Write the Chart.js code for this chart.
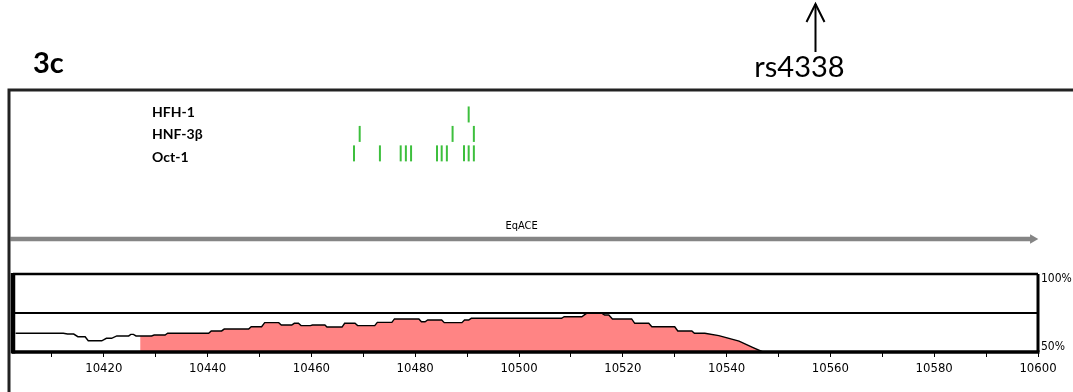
<!DOCTYPE html>
<html><head><meta charset="utf-8">
<script src="https://cdn.jsdelivr.net/npm/chart.js@4/dist/chart.umd.min.js"></script>
<style>html,body{margin:0;padding:0;background:#fff;overflow:hidden}</style>
</head><body>
<canvas id="c" width="1073" height="392"></canvas>
<script>
// ---- data ----
const panelLabel = '3c';
const snpLabel = 'rs4338';
const snpPosition = 10557;
const geneName = 'EqACE';
const geneSpan = [10402, 10599];
const tfNames = ['HFH-1', 'HNF-3\u03b2', 'Oct-1'];
const hfh1Sites = [10490.3];
const hnf3bSites = [10469.3, 10487.2, 10491.3];
const oct1Sites = [10468.2, 10473.2, 10477.2, 10478.2, 10479.2, 10484.2, 10485.1, 10486.1, 10489.4, 10490.3, 10491.3];
const consPositions = [10403, 10412.2, 10413, 10414.2, 10415, 10416.4, 10417, 10419.6, 10420.5, 10421.5, 10422.5, 10424.8, 10425.2, 10425.7, 10426.2, 10429.2, 10429.7, 10431.8, 10432.3, 10440.2, 10440.7, 10442.7, 10443.2, 10447.9, 10448.4, 10450.4, 10451, 10453.7, 10454.2, 10456.2, 10456.7, 10457.5, 10458, 10459.8, 10460.2, 10462.6, 10463, 10465.9, 10466.4, 10468.4, 10468.9, 10472.2, 10472.7, 10475.5, 10476, 10480.7, 10481.2, 10481.9, 10482.4, 10485.1, 10485.6, 10489.0, 10489.5, 10490.3, 10490.8, 10508.2, 10508.7, 10512.1, 10513, 10516, 10516.5, 10517.3, 10518, 10521.7, 10522.3, 10525, 10525.6, 10530, 10530.6, 10533.3, 10533.8, 10535.8, 10538.5, 10542.4, 10545, 10547];
const consValues = [62.0, 62.0, 61.5, 61.5, 59.8, 59.8, 57.2, 57.2, 58.8, 58.8, 60.3, 60.3, 61.3, 61.3, 60.3, 60.3, 60.9, 60.9, 62.0, 62.0, 63.5, 63.5, 64.7, 64.7, 66.2, 66.2, 68.8, 68.8, 67.3, 67.3, 68.4, 68.4, 66.9, 66.9, 67.3, 67.3, 66.0, 66.0, 68.4, 68.4, 66.9, 66.9, 69.0, 69.0, 71.2, 71.2, 69.4, 69.4, 70.5, 70.5, 68.8, 68.8, 70.5, 70.5, 71.6, 71.6, 72.6, 72.6, 74.8, 74.8, 73.7, 73.7, 71.2, 71.2, 68.4, 68.4, 66.2, 66.2, 63.5, 63.5, 62.0, 62.0, 60.5, 57.0, 53.0, 50.0];
const conservedRegion = [10427, 10547];
const xTickValues = [10410, 10420, 10430, 10440, 10450, 10460, 10470, 10480, 10490, 10500, 10510, 10520, 10530, 10540, 10550, 10560, 10570, 10580, 10590, 10600];
const percentLabels = ['100%', '50%'];

// ---- derived ----
const consPts = consPositions.map((x, i) => ({x, y: consValues[i]}));
function valueAt(x) {
  for (let i = 1; i < consPositions.length; i++) {
    if (x <= consPositions[i]) {
      const x0 = consPositions[i - 1], x1 = consPositions[i];
      const t = (x - x0) / (x1 - x0);
      return consValues[i - 1] + t * (consValues[i] - consValues[i - 1]);
    }
  }
  return consValues[consValues.length - 1];
}
const fillPts = [{x: conservedRegion[0], y: valueAt(conservedRegion[0])}]
  .concat(consPts.filter(p => p.x > conservedRegion[0] && p.x < conservedRegion[1]))
  .concat([{x: conservedRegion[1], y: valueAt(conservedRegion[1])}]);
const rowOf = {[tfNames[0]]: 3, [tfNames[1]]: 2, [tfNames[2]]: 1};
const geneRow = -3.4;
const green = '#3dbf3d';
function tfDataset(sites, name) {
  return {type: 'scatter', data: sites.map(x => ({x, y: rowOf[name]})), yAxisID: 'yTrack',
    pointStyle: 'line', rotation: 90, pointRadius: 8, borderColor: green, borderWidth: 2, order: 3};
}

const decor = {
  id: 'decor',
  beforeDraw(chart) {
    const c = chart.ctx;
    c.save(); c.fillStyle = '#fff'; c.fillRect(0, 0, chart.width, chart.height); c.restore();
  },
  afterDatasetsDraw(chart) {
    const c = chart.ctx, a = chart.chartArea, x = chart.scales.x, yc = chart.scales.yCons, yt = chart.scales.yTrack;
    c.save();
    // outer frame
    c.strokeStyle = '#222'; c.lineWidth = 3;
    c.beginPath(); c.moveTo(a.left - 4, chart.height); c.lineTo(a.left - 4, a.top - 5); c.lineTo(chart.width, a.top - 5); c.stroke();
    // conservation box
    const top = yc.getPixelForValue(100), bot = yc.getPixelForValue(50), mid = yc.getPixelForValue(75);
    c.strokeStyle = '#000';
    c.lineWidth = 1.8; c.beginPath(); c.moveTo(a.left, mid); c.lineTo(a.right, mid); c.stroke();
    c.lineWidth = 2.5; c.beginPath(); c.moveTo(a.left, top); c.lineTo(a.right, top); c.stroke();
    c.lineWidth = 3; c.beginPath(); c.moveTo(a.right, top); c.lineTo(a.right, bot); c.stroke();
    c.lineWidth = 3.5; c.beginPath(); c.moveTo(a.left - 1, bot); c.lineTo(a.right + 1.5, bot); c.stroke();
    c.lineWidth = 4.5; c.beginPath(); c.moveTo(a.left, top - 1); c.lineTo(a.left, bot + 1.5); c.stroke();
    // percent labels
    c.fillStyle = '#000'; c.font = '12px "DejaVu Sans Condensed", "DejaVu Sans"'; c.textAlign = 'left'; c.textBaseline = 'middle';
    c.fillText(percentLabels[0], a.right + 3, top + 5);
    c.fillText(percentLabels[1], a.right + 3, bot - 5);
    // TF labels
    c.font = 'bold 14px Lato, "Open Sans", sans-serif';
    const labOff = [-2, 1, 4];
    tfNames.forEach((n, i) => c.fillText(n, 152, yt.getPixelForValue(rowOf[n]) + labOff[i]));
    // gene name
    c.font = '11px "DejaVu Sans Condensed", "DejaVu Sans"'; c.textAlign = 'center';
    c.fillText(geneName, x.getPixelForValue((geneSpan[0] + geneSpan[1]) / 2), yt.getPixelForValue(geneRow) - 13);
    // panel label
    c.textAlign = 'left'; c.textBaseline = 'alphabetic';
    c.font = 'bold 29px Lato, "Open Sans", sans-serif';
    c.fillText(panelLabel, 33, 73);
    // SNP arrow + label
    const sx = Math.round(x.getPixelForValue(snpPosition)) + 0.5;
    c.lineWidth = 2; c.strokeStyle = '#000';
    c.beginPath(); c.moveTo(sx, 52); c.lineTo(sx, 4); c.stroke();
    c.beginPath(); c.moveTo(sx - 9, 22); c.lineTo(sx, 4); c.lineTo(sx + 9, 22); c.stroke();
    c.font = '29px Lato, "Open Sans", sans-serif'; c.textAlign = 'center';
    c.fillText(snpLabel, sx - 16, 77);
    c.restore();
  }
};

new Chart(document.getElementById('c'), {
  type: 'line',
  data: {
    datasets: [
      {data: consPts, yAxisID: 'yCons', borderColor: '#000', borderWidth: 1.4, pointRadius: 0, fill: false, tension: 0, order: 0},
      {data: fillPts, yAxisID: 'yCons', borderWidth: 0, borderColor: 'rgba(0,0,0,0)', backgroundColor: '#ff8484', pointRadius: 0, fill: {value: 50}, tension: 0, order: 2},
      {data: [{x: geneSpan[0], y: geneRow}, {x: geneSpan[1], y: geneRow}], yAxisID: 'yTrack', borderColor: '#858585', backgroundColor: '#858585',
        borderWidth: 4.5, pointStyle: 'triangle', rotation: 90, pointRadius: ctx => ctx.dataIndex === 1 ? 5.5 : 0, pointBorderWidth: 0, clip: false, order: 1},
      tfDataset(hfh1Sites, tfNames[0]),
      tfDataset(hnf3bSites, tfNames[1]),
      tfDataset(oct1Sites, tfNames[2])
    ]
  },
  options: {
    responsive: false, animation: false, devicePixelRatio: 1,
    layout: {padding: {left: 13, right: 0, top: 95, bottom: 0}},
    plugins: {legend: {display: false}, tooltip: {enabled: false}},
    scales: {
      x: {type: 'linear', min: 10402.5, max: 10600, position: 'bottom',
        afterBuildTicks: s => { s.ticks = xTickValues.map(v => ({value: v})); },
        ticks: {autoSkip: false, maxRotation: 0, padding: 4, color: '#000',
          font: {family: '"DejaVu Sans Condensed", "DejaVu Sans"', size: 13},
          callback: v => (v % 20 === 0 ? String(v) : '')},
        grid: {drawOnChartArea: false, drawTicks: true, tickLength: 5, color: '#000', lineWidth: 1},
        border: {display: false},
        afterFit: s => { s.height = 40; }
      },
      yTrack: {type: 'linear', position: 'right', stack: 'right', stackWeight: 179, min: -5.2, max: 4,
        ticks: {display: false}, grid: {display: false}, border: {display: false},
        afterFit: s => { s.width = 35; }},
      yCons: {type: 'linear', position: 'right', stack: 'right', stackWeight: 78, min: 50, max: 100,
        ticks: {display: false}, grid: {display: false}, border: {display: false},
        afterFit: s => { s.width = 35; }}
    }
  },
  plugins: [decor]
});
</script>
</body></html>
